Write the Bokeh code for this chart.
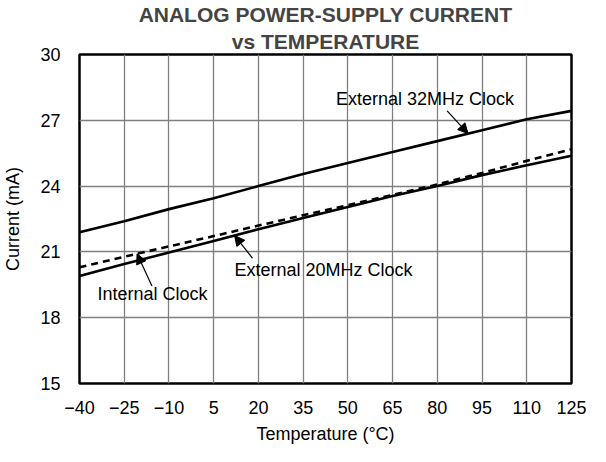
import numpy as np
from bokeh.plotting import figure
from bokeh.models import Range1d, FixedTicker, Label, Arrow, NormalHead, Title
from bokeh.embed import file_html
from bokeh.resources import INLINE

# ---- data ----
temps = [-40, -25, -10, 5, 20, 35, 50, 65, 80, 95, 110, 125]
ext32 = [21.9, 22.4, 22.95, 23.45, 24.0, 24.55, 25.05, 25.55, 26.05, 26.55, 27.05, 27.43]
ext20 = [19.9, 20.45, 20.97, 21.5, 22.03, 22.55, 23.05, 23.55, 24.0, 24.5, 24.95, 25.38]
internal = [20.3, 20.78, 21.25, 21.72, 22.2, 22.67, 23.13, 23.6, 24.07, 24.6, 25.15, 25.68]

x_ticks = [-40, -25, -10, 5, 20, 35, 50, 65, 80, 95, 110, 125]
x_tick_labels = ["\u221240", "\u221225", "\u221210", "5", "20", "35", "50", "65", "80", "95", "110", "125"]
y_ticks = [15, 18, 21, 24, 27, 30]
y_tick_labels = ["15", "18", "21", "24", "27", "30"]

title1 = "ANALOG POWER-SUPPLY CURRENT"
title2 = "vs TEMPERATURE"
x_label = "Temperature (\u00b0C)"
y_label = "Current (mA)"

FONT = "Liberation Sans"

p = figure(width=590, height=446, output_backend="svg", toolbar_location=None,
           x_range=Range1d(-40, 125), y_range=Range1d(15, 30),
           min_border_left=76, min_border_right=19, min_border_top=51, min_border_bottom=57)

# top title line (outermost)
p.title.text = title1
p.title.align = "center"
p.title.text_font = FONT
p.title.text_font_size = "21px"
p.title.text_font_style = "bold"
p.title.standoff = 0
# second title line (closest to the frame)
p.add_layout(Title(text=title2, align="center", text_font=FONT, text_font_size="21px",
                   text_font_style="bold", standoff=4), "above")

p.outline_line_color = "black"
p.outline_line_width = 2.5
p.background_fill_color = "white"
p.border_fill_color = "white"

for ax in (p.xaxis[0], p.yaxis[0]):
    ax.axis_line_color = None
    ax.major_tick_line_color = None
    ax.minor_tick_line_color = None
    ax.major_label_text_font = FONT
    ax.major_label_text_font_size = "18px"
    ax.major_label_text_color = "black"
    ax.axis_label_text_font = FONT
    ax.axis_label_text_font_size = "18px"
    ax.axis_label_text_font_style = "normal"
    ax.axis_label_text_color = "black"

p.xaxis.ticker = FixedTicker(ticks=x_ticks)
p.xaxis.major_label_overrides = dict(zip(x_ticks, x_tick_labels))
p.xaxis.axis_label = x_label
p.xaxis.major_label_standoff = 11
p.xaxis.axis_label_standoff = 7

p.yaxis.ticker = FixedTicker(ticks=y_ticks)
p.yaxis.major_label_overrides = dict(zip(y_ticks, y_tick_labels))
p.yaxis.axis_label = y_label
p.yaxis.major_label_standoff = 13
p.yaxis.axis_label_standoff = 14

p.grid.grid_line_color = "#7f7f7f"
p.grid.grid_line_width = 1.3
p.grid.grid_line_alpha = 1.0

p.line(temps, ext32, line_color="black", line_width=2.6)
p.line(temps, ext20, line_color="black", line_width=2.6)
p.line(temps, internal, line_color="black", line_width=2.6, line_dash="7 5")

# annotations: arrow heads land on the curves
def on_curve(series, t):
    return float(np.interp(t, temps, series))

ann = [
    ("External 32MHz Clock", 46, 27.96, ext32, 83.3, 27.43, 90.3),
    ("Internal Clock", -34, 19.08, internal, -15.7, 19.44, -20.7),
    ("External 20MHz Clock", 12, 20.19, ext20, 18.0, 20.72, 12.0),
]
for text, tx, ty, series, ax0, ay0, ahx in ann:
    p.add_layout(Label(x=tx, y=ty, text=text, text_font=FONT, text_font_size="18px",
                       text_baseline="middle", text_align="left", text_color="black"))
    p.add_layout(Arrow(x_start=ax0, y_start=ay0, x_end=ahx, y_end=on_curve(series, ahx),
                       line_color="black", line_width=1.2,
                       end=NormalHead(size=10, fill_color="black", line_color="black", line_width=1)))

open("out.html", "w").write(file_html(p, INLINE))
